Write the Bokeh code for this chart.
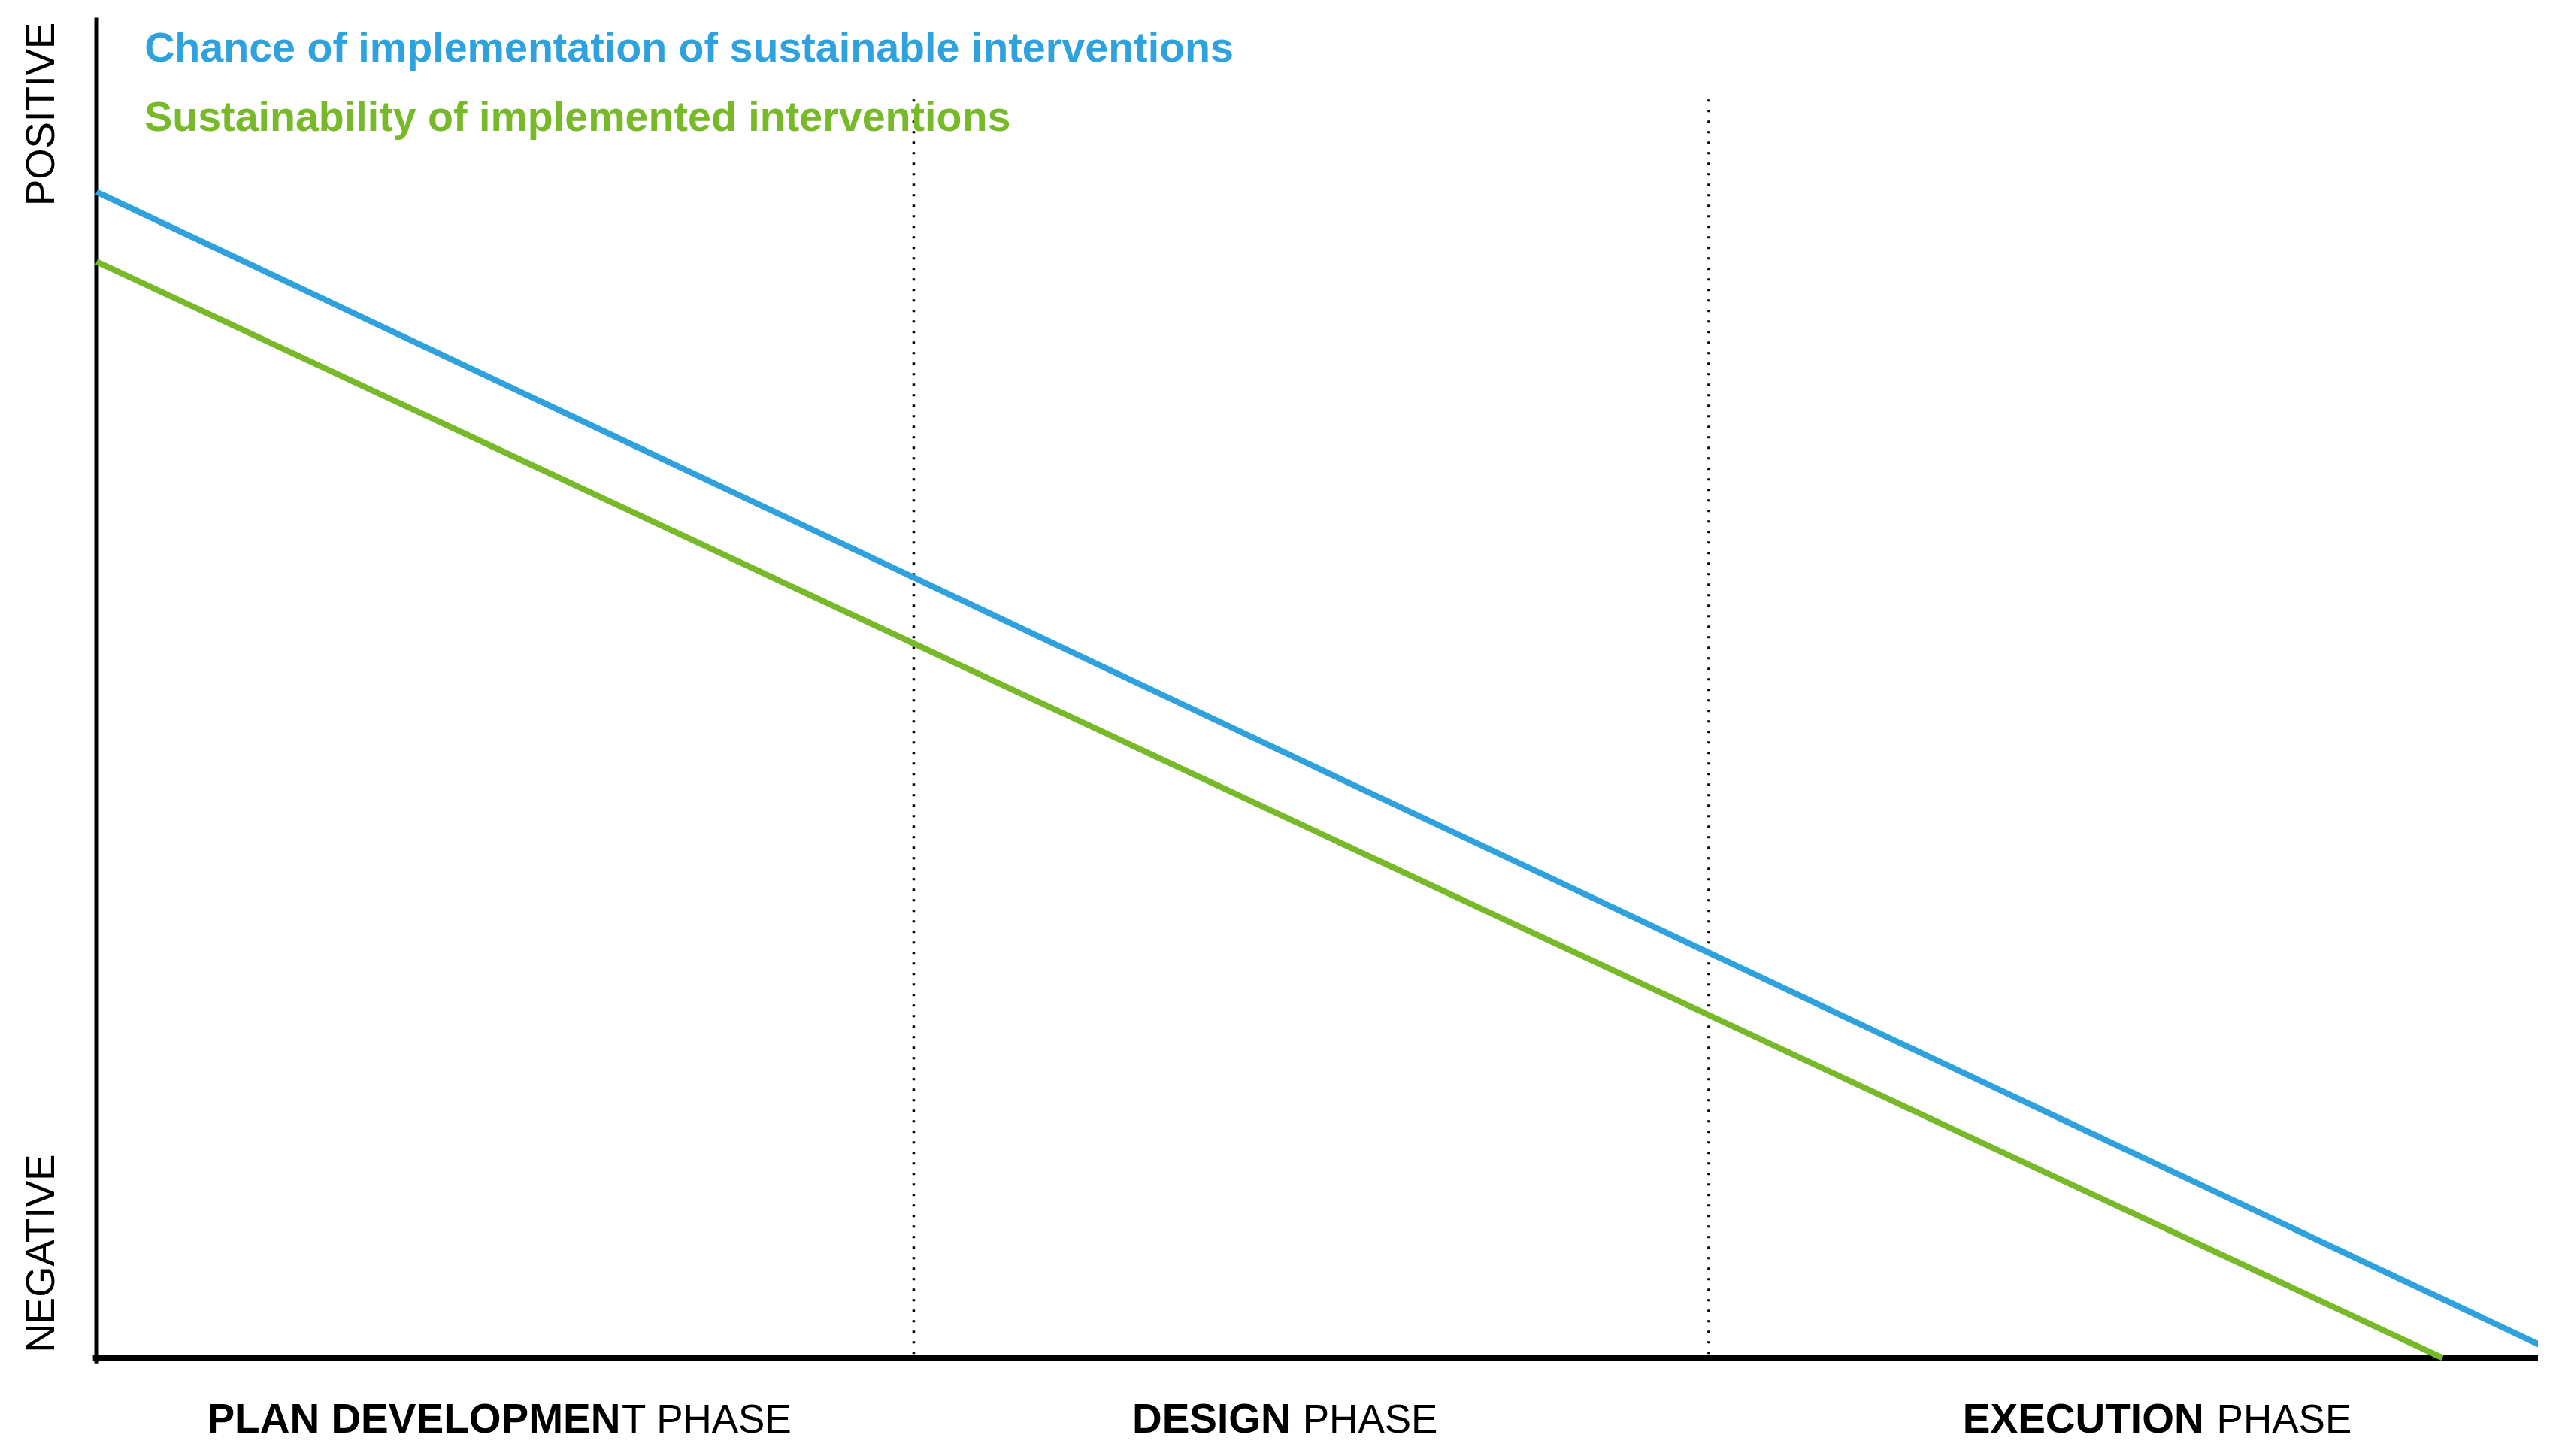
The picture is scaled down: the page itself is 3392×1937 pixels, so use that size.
from bokeh.plotting import figure
from bokeh.models import Range1d, Label, LabelSet, ColumnDataSource
from bokeh.core.properties import value
from bokeh.embed import file_html
from bokeh.resources import INLINE
import math

# ---- data (x: progress through the project 0..100, y: negative 0 .. positive 100)
blue_x = [0, 100]
blue_y = [87.0, 0.6]
green_x = [0, 95.6]
green_y = [81.8, 0.0]
phase_bounds = [33.3, 65.7]
bound_top = 94.3

series_names = ["Chance of implementation of sustainable interventions",
                "Sustainability of implemented interventions"]

phase_bold = ["PLAN DEVELOPMEN", "DESIGN", "EXECUTION"]
phase_regular = ["T PHASE", "PHASE", "PHASE"]
phase_bold_x = [4.5, 42.2, 76.05]
phase_regular_x = [21.4, 49.15, 86.4]

y_labels = ["POSITIVE", "NEGATIVE"]
y_label_pos = [92.8, 7.8]

BLUE = "#2FA2DD"
GREEN = "#78B92A"
FONT = "Liberation Sans"

W, H = 3376, 1921
p = figure(width=W, height=H, output_backend="svg", toolbar_location=None,
           x_range=Range1d(-3.922, 99.51), y_range=Range1d(-6.45, 101.29),
           x_axis_location=None, y_axis_location=None,
           min_border=0)
p.outline_line_color = None
p.xgrid.visible = False
p.ygrid.visible = False
p.background_fill_color = "white"
p.border_fill_color = "white"

# axis lines
p.segment(x0=[0], y0=[-0.4], x1=[0], y1=[100], line_color="black", line_width=6)
p.segment(x0=[-0.15], y0=[0], x1=[100], y1=[0], line_color="black", line_width=9)

# phase boundaries (dotted)
for b in phase_bounds:
    p.line([b, b], [0.3, bound_top], line_color="black", line_width=3.5,
           line_dash="3 11")

# series
p.line(blue_x, blue_y, line_color=BLUE, line_width=8)
p.line(green_x, green_y, line_color=GREEN, line_width=8)

# series titles
p.add_layout(Label(x=1.95, y=97.8, text=series_names[0], text_color=BLUE,
                   text_font=FONT, text_font_size="55.6px", text_font_style="bold",
                   text_baseline="alphabetic"))
p.add_layout(Label(x=1.95, y=92.6, text=series_names[1], text_color=GREEN,
                   text_font=FONT, text_font_size="55.6px", text_font_style="bold",
                   text_baseline="alphabetic"))

# y-axis words
for t, yy in zip(y_labels, y_label_pos):
    p.add_layout(Label(x=-2.3, y=yy, text=t, angle=math.pi / 2,
                       text_align="center", text_baseline="alphabetic",
                       text_font=FONT, text_font_size="53px", text_color="black"))

# phase labels
src_b = ColumnDataSource(dict(x=phase_bold_x, y=[-5.6] * 3, t=phase_bold))
src_r = ColumnDataSource(dict(x=phase_regular_x, y=[-5.6] * 3, t=phase_regular))
p.add_layout(LabelSet(x="x", y="y", text="t", source=src_b, text_font=value(FONT),
                      text_font_size=value("55px"), text_font_style="bold",
                      text_color="black", text_baseline="alphabetic"))
p.add_layout(LabelSet(x="x", y="y", text="t", source=src_r, text_font=value(FONT),
                      text_font_size=value("53px"), text_color="black",
                      text_baseline="alphabetic"))

open("out.html", "w").write(file_html(p, INLINE))
